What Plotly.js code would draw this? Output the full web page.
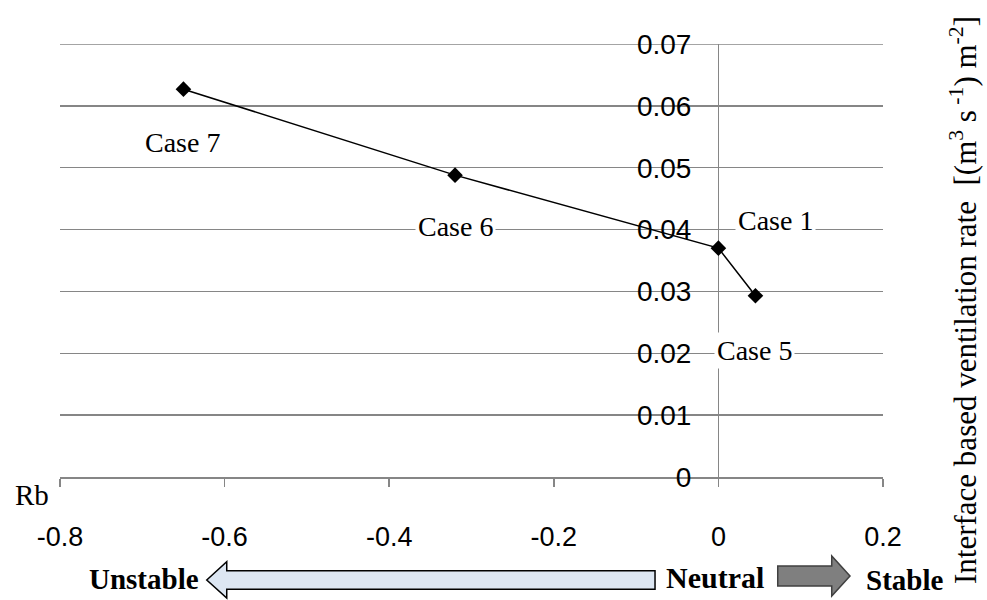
<!DOCTYPE html>
<html>
<head>
<meta charset="utf-8">
<script src="https://cdn.plot.ly/plotly-3.0.1.min.js"></script>
<style>html,body{margin:0;padding:0;background:#fff;}#chart{width:987px;height:600px;}</style>
</head>
<body>
<div id="chart"></div>
<script>
// Data
var caseNames = ["Case 7", "Case 6", "Case 1", "Case 5"];
var rbValues = [-0.65, -0.32, 0.0, 0.045];
var ventRates = [0.0627, 0.0488, 0.0370, 0.0293];
var xTicks = [-0.8, -0.6, -0.4, -0.2, 0, 0.2];
var xTickLabels = ["-0.8", "-0.6", "-0.4", "-0.2", "0", "0.2"];
var yTicks = [0, 0.01, 0.02, 0.03, 0.04, 0.05, 0.06, 0.07];
var yTickLabels = ["0", "0.01", "0.02", "0.03", "0.04", "0.05", "0.06", "0.07"];

// label placement (pixel offsets from point)
var labelShift = [[-1, -53, false], [0, -51, true], [57, 28, true], [-1, -55, true]];

var M = {l: 60, r: 104, t: 44, b: 123};
var W = 987, H = 600;
var PW = W - M.l - M.r, PH = H - M.t - M.b;
function px(X) { return (X - M.l) / PW; }
function py(Y) { return (H - M.b - Y) / PH; }
function path(pts) {
  return pts.map(function (p, i) { return (i ? "L" : "M") + px(p[0]).toFixed(4) + "," + py(p[1]).toFixed(4); }).join(" ") + " Z";
}

var serif = "Liberation Serif, Times New Roman, serif";
var sans = "Liberation Sans, Arial, sans-serif";
var gridC = "#868686";

var trace = {
  x: rbValues, y: ventRates, type: "scatter", mode: "lines+markers",
  line: {color: "#000", width: 1.5},
  marker: {symbol: "diamond", size: 12, color: "#000"},
  hoverinfo: "none", showlegend: false
};

var annotations = caseNames.map(function (n, i) {
  var s = labelShift[i];
  return {x: rbValues[i], y: ventRates[i], xref: "x", yref: "y", text: n, showarrow: false,
    xanchor: "center", yanchor: "middle",
    xshift: s[0], yshift: s[1], font: {family: serif, size: 28, color: "#000"},
    bgcolor: s[2] ? "#fff" : "rgba(0,0,0,0)", borderpad: 2};
});
function note(X, Y, text, size, angle) {
  return {xref: "paper", yref: "paper", x: px(X), y: py(Y), text: text, showarrow: false,
    xanchor: "center", yanchor: "middle", textangle: angle || 0,
    font: {family: serif, size: size, color: "#000"}};
}
annotations.push(note(32, 495, "Rb", 29));
annotations.push(note(144, 579, "<b>Unstable</b>", 29));
annotations.push(note(715, 577, "<b>Neutral</b>", 30));
annotations.push(note(904, 580, "<b>Stable</b>", 29));
annotations.push(note(963, 300, "Interface based ventilation rate  [(m<sup>3</sup> s<sup> -1</sup>) m<sup>-2</sup>]", 31, -90));

var shapes = [
  {type: "line", xref: "paper", yref: "y", x0: 0, x1: 1, y0: yTicks[yTicks.length - 1], y1: yTicks[yTicks.length - 1],
   line: {color: gridC, width: 1.5}, layer: "below"},
  {type: "path", xref: "paper", yref: "paper",
   path: path([[206.7, 580], [226.7, 561.7], [226.7, 570.7], [655, 570.7], [655, 589.3], [226.7, 589.3], [226.7, 598]]),
   fillcolor: "#dce6f2", line: {color: "#000", width: 1.5}},
  {type: "path", xref: "paper", yref: "paper",
   path: path([[777.7, 566], [831.7, 566], [831.7, 556], [850, 576], [831.7, 596], [831.7, 586], [777.7, 586]]),
   fillcolor: "#7f7f7f", line: {color: "#404040", width: 1.5}}
];

var layout = {
  width: W, height: H, margin: M, paper_bgcolor: "#fff", plot_bgcolor: "#fff",
  showlegend: false,
  xaxis: {range: [-0.8, 0.2], tickvals: xTicks, ticktext: xTickLabels, showgrid: false,
    zeroline: true, zerolinecolor: gridC, zerolinewidth: 1.5,
    showline: true, linecolor: gridC, linewidth: 1.5,
    ticks: "outside", ticklen: 8, tickcolor: gridC, tickwidth: 1.5,
    ticklabelstandoff: 27,
    tickfont: {family: sans, size: 27, color: "#000"}, fixedrange: true},
  yaxis: {range: [0, 0.07], tickvals: yTicks, ticktext: yTickLabels,
    anchor: "free", position: 0.8, side: "left",
    showgrid: true, gridcolor: gridC, gridwidth: 1.5, zeroline: false, showline: false,
    ticks: "", ticklabelstandoff: 27,
    tickfont: {family: sans, size: 28, color: "#000"}, fixedrange: true},
  annotations: annotations, shapes: shapes
};

Plotly.newPlot("chart", [trace], layout, {staticPlot: true, displayModeBar: false});
</script>
</body>
</html>
